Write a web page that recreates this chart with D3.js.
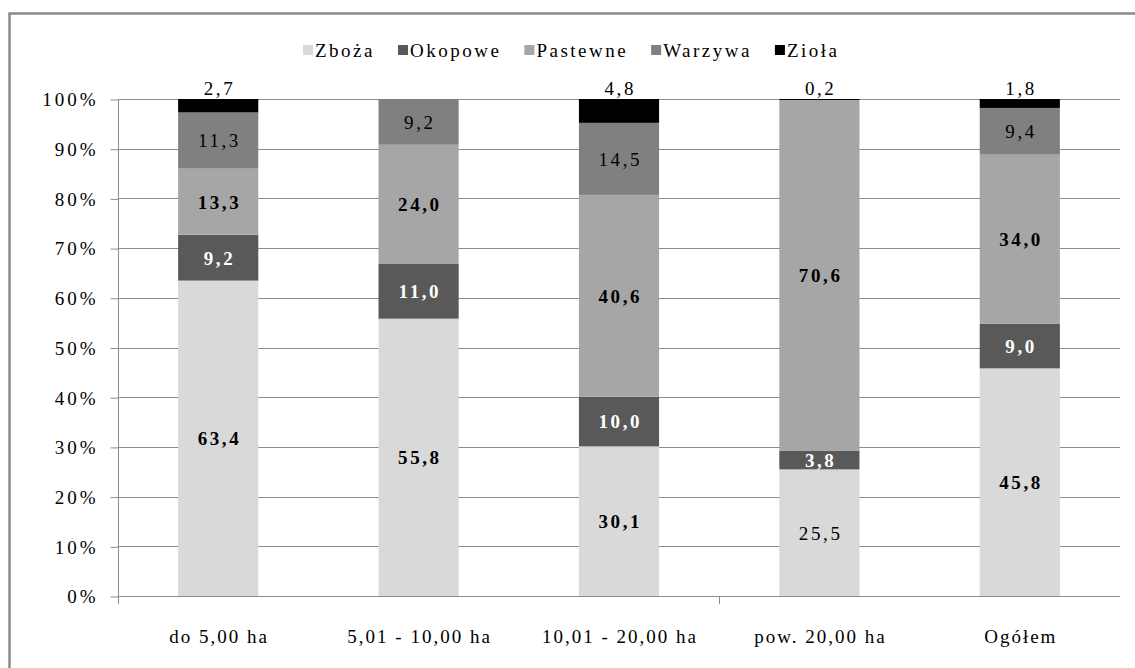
<!DOCTYPE html>
<html><head><meta charset="utf-8">
<script src="https://cdn.jsdelivr.net/npm/d3@7"></script>
</head>
<body style="margin:0">
<svg id="c" width="1135" height="668"></svg>
<script>
const categories = ["do 5,00 ha", "5,01 - 10,00 ha", "10,01 - 20,00 ha", "pow. 20,00 ha", "Ogółem"];
const seriesNames = ["Zboża", "Okopowe", "Pastewne", "Warzywa", "Zioła"];
const zboza    = [63.4, 55.8, 30.1, 25.5, 45.8];
const okopowe  = [9.2, 11.0, 10.0, 3.8, 9.0];
const pastewne = [13.3, 24.0, 40.6, 70.6, 34.0];
const warzywa  = [11.3, 9.2, 14.5, 0, 9.4];
const ziola    = [2.7, 0, 4.8, 0.2, 1.8];
const yTicks = [0, 10, 20, 30, 40, 50, 60, 70, 80, 90, 100];

const seriesValues = [zboza, okopowe, pastewne, warzywa, ziola];
const colors = ["#d9d9d9", "#595959", "#a6a6a6", "#808080", "#000000"];
const labelColors = ["#000", "#fff", "#000", "#000", "#000"];
const labelWeights = ["bold", "bold", "bold", "normal", "normal"];
const FONT = "Liberation Serif";

const svg = d3.select("#c");
const W = 1135, H = 668;
const plot = {left: 118, right: 1120, top: 99, bottom: 596};

function txt(sel, size, spacing) {
  return sel.attr("font-family", FONT).attr("font-size", size).style("font-family", FONT).style("letter-spacing", spacing + "px");
}

// frame
svg.append("rect").attr("x", 9.5).attr("y", 13.5).attr("width", W + 20).attr("height", H + 20)
  .attr("fill", "none").attr("stroke", "#8a8a8a").attr("stroke-width", 2.5);

const rows = categories.map((c, i) => {
  const r = {cat: c};
  seriesNames.forEach((s, j) => r[s] = seriesValues[j][i]);
  return r;
});
const stacked = d3.stack().keys(seriesNames).offset(d3.stackOffsetExpand)(rows);

const x = d3.scaleBand().domain(categories).range([plot.left, plot.right]).paddingInner(0.6).paddingOuter(0.3);
const y = d3.scaleLinear().domain([0, 1]).range([plot.bottom, plot.top]);

// gridlines
svg.append("g").selectAll("line").data(yTicks.filter(t => t > 0)).join("line")
  .attr("x1", plot.left).attr("x2", plot.right)
  .attr("y1", d => Math.round(y(d / 100)) + 0.5).attr("y2", d => Math.round(y(d / 100)) + 0.5)
  .attr("stroke", "#8c8c8c").attr("stroke-width", 1);

// y axis
const yAxis = d3.axisLeft(y).tickValues(yTicks.map(t => t / 100)).tickFormat(d => Math.round(d * 100) + "%").tickSize(8).tickSizeOuter(0);
const ya = svg.append("g").attr("transform", `translate(${plot.left + 0.5},0)`).call(yAxis);
ya.attr("font-family", FONT).attr("font-size", 19);
ya.select(".domain").attr("stroke", "#8c8c8c").attr("d", `M0,${plot.top}V${plot.bottom + 8}`);
ya.selectAll(".tick line").attr("stroke", "#8c8c8c").attr("transform", "translate(0,0.5)");
txt(ya.selectAll(".tick text"), 19, 3).attr("x", -20).attr("fill", "#000").attr("dy", "0.36em");

// bars
const layers = svg.append("g").selectAll("g").data(stacked).join("g")
  .attr("fill", (d, i) => colors[i]);
layers.selectAll("rect").data(d => d).join("rect")
  .attr("x", d => x(d.data.cat)).attr("width", x.bandwidth())
  .attr("y", d => y(d[1])).attr("height", d => Math.max(0, y(d[0]) - y(d[1])));

// x axis line
svg.append("line").attr("x1", plot.left).attr("x2", plot.right)
  .attr("y1", plot.bottom + 0.5).attr("y2", plot.bottom + 0.5).attr("stroke", "#8c8c8c");
// category tick marks (every 3rd boundary)
const boundaries = d3.range(0, categories.length + 1, 3).map(i => plot.left + i * x.step());
svg.append("g").selectAll("line").data(boundaries).join("line")
  .attr("x1", d => Math.round(d) + 0.5).attr("x2", d => Math.round(d) + 0.5)
  .attr("y1", plot.bottom).attr("y2", plot.bottom + 8).attr("stroke", "#8c8c8c");

// x labels
txt(svg.append("g").selectAll("text").data(categories).join("text"), 19, 2)
  .attr("x", d => x(d) + x.bandwidth() / 2 + 1).attr("y", 636).attr("dy", "0.36em")
  .attr("text-anchor", "middle")
  .text(d => d);

// value labels
const fmt = v => v.toFixed(1).replace(".", ",");
stacked.forEach((layer, si) => {
  const g = svg.append("g");
  layer.forEach((d, ci) => {
    const v = seriesValues[si][ci];
    if (!v) return;
    const cx = x(d.data.cat) + x.bandwidth() / 2 + 1.3;
    let cy;
    if (si === seriesNames.length - 1) cy = plot.top - 11;
    else cy = (y(d[0]) + y(d[1])) / 2;
    let weight = labelWeights[si];
    if (si === 0 && ci === 3) weight = "normal";
    txt(g.append("text"), 19, 2.6).attr("x", cx).attr("y", cy).attr("dy", "0.36em")
      .attr("text-anchor", "middle")
      .attr("font-weight", weight).attr("fill", labelColors[si]).text(fmt(v));
  });
});

// legend
const legend = svg.append("g").attr("transform", "translate(303,50)");
let lx = 0;
seriesNames.forEach((s, i) => {
  const g = legend.append("g").attr("transform", `translate(${lx},0)`);
  g.append("rect").attr("x", 0).attr("y", -5).attr("width", 10).attr("height", 10).attr("fill", colors[i]);
  const t = txt(g.append("text"), 19, 2.5).attr("x", 12).attr("y", 0).attr("dy", "0.36em").text(s);
  lx += 12 + t.node().getComputedTextLength() + 23;
});
</script></body></html>
